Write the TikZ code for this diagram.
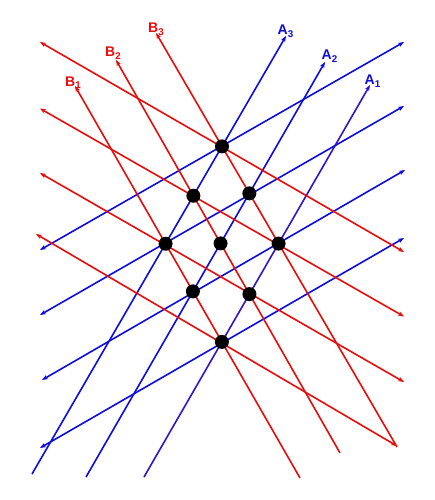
\documentclass[tikz,border=0pt]{standalone}
\usepackage{fontspec}
\setmainfont{Liberation Sans}
\usetikzlibrary{arrows.meta}
\definecolor{lred}{RGB}{232,12,12}
\definecolor{lblue}{RGB}{12,12,225}
\definecolor{lviolet}{RGB}{50,20,205}
\begin{document}
\begin{tikzpicture}[x=1pt,y=-1pt,
  ln/.style={line width=1.6pt},
  onehead/.style={-{Stealth[length=6pt,width=4.5pt]}},
  twoheads/.style={{Stealth[length=6pt,width=4.5pt]}-{Stealth[length=6pt,width=4.5pt]}},
  dot/.style={circle,fill=black,minimum size=14pt,inner sep=0pt},
  lab/.style={font=\fontsize{14}{14}\selectfont\bfseries,anchor=base west,inner sep=0pt}]
\useasboundingbox[fill=white] (0,0) rectangle (434,500);
% steep lines
\coordinate (A3s) at (32,474);  \coordinate (A3e) at (286,36);
\coordinate (A2s) at (86,477);  \coordinate (A2e) at (325,62);
\coordinate (A1s) at (144,477); \coordinate (A1e) at (370,85);
\coordinate (B3s) at (397,447); \coordinate (B3e) at (156,33);
\coordinate (B2s) at (340,453); \coordinate (B2e) at (116,60);
\coordinate (B1s) at (300,478); \coordinate (B1e) at (75,86);
% shallow red lines
\coordinate (r1l) at (40,42);    \coordinate (r1r) at (404,252);
\coordinate (r2l) at (40,108.5); \coordinate (r2r) at (404,316.5);
\coordinate (r3l) at (40,173);   \coordinate (r3r) at (404,382);
\coordinate (r4l) at (36,234);   \coordinate (r4r) at (397,446);
% shallow blue lines
\coordinate (b1l) at (40,250); \coordinate (b1r) at (404,42);
\coordinate (b2l) at (40,315); \coordinate (b2r) at (404,106);
\coordinate (b3l) at (42,380); \coordinate (b3r) at (405,170);
\coordinate (b4l) at (40,448); \coordinate (b4r) at (404,238);

\draw[ln,onehead,lblue] (A3s) -- (A3e);
\draw[ln,onehead,lblue] (A2s) -- (A2e);
\draw[ln,onehead,lviolet] (A1s) -- (A1e);
\draw[ln,twoheads,lblue] (b1l) -- (b1r);
\draw[ln,twoheads,lblue] (b2l) -- (b2r);
\draw[ln,twoheads,lblue] (b3l) -- (b3r);
\draw[ln,twoheads,lblue] (b4l) -- (b4r);
\draw[ln,onehead,lred] (B3s) -- (B3e);
\draw[ln,onehead,lred] (B2s) -- (B2e);
\draw[ln,onehead,lred] (B1s) -- (B1e);
\draw[ln,twoheads,lred] (r1l) -- (r1r);
\draw[ln,twoheads,lred] (r2l) -- (r2r);
\draw[ln,twoheads,lred] (r3l) -- (r3r);
\draw[ln,twoheads,lred] (r4l) -- (r4r);

\node[dot] (d33) at (intersection of A3s--A3e and B3s--B3e) {};
\node[dot] (d32) at (intersection of A3s--A3e and B2s--B2e) {};
\node[dot] (d31) at (intersection of A3s--A3e and B1s--B1e) {};
\node[dot] (d23) at (intersection of A2s--A2e and B3s--B3e) {};
\node[dot] (d22) at (intersection of A2s--A2e and B2s--B2e) {};
\node[dot] (d21) at (intersection of A2s--A2e and B1s--B1e) {};
\node[dot] (d13) at (intersection of A1s--A1e and B3s--B3e) {};
\node[dot] (d12) at (intersection of A1s--A1e and B2s--B2e) {};
\node[dot] (d11) at (intersection of A1s--A1e and B1s--B1e) {};

\node[lab,text=lred] (lB3) at (148,33) {B\textsubscript{3}};
\node[lab,text=lred] (lB2) at (105,57) {B\textsubscript{2}};
\node[lab,text=lred] (lB1) at (65,86.5) {B\textsubscript{1}};
\node[lab,text=lblue] (lA3) at (277.5,35) {A\textsubscript{3}};
\node[lab,text=lblue] (lA2) at (321.5,60) {A\textsubscript{2}};
\node[lab,text=lblue] (lA1) at (364.5,85) {A\textsubscript{1}};
\end{tikzpicture}
\end{document}
